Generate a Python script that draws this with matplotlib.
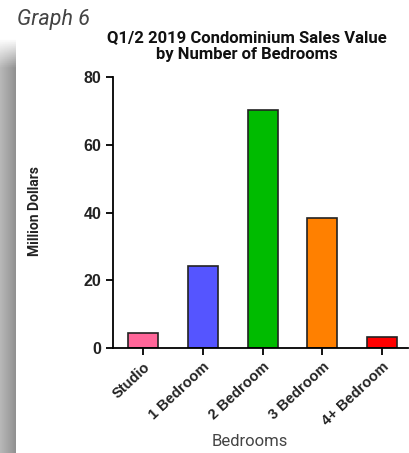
import numpy as np
import matplotlib
matplotlib.use("Agg")
import matplotlib.pyplot as plt

categories = ["Studio", "1 Bedroom", "2 Bedroom", "3 Bedroom", "4+ Bedroom"]
values = [4.3, 24.2, 70.3, 38.3, 3.2]
colors = ["#ff6699", "#5555ff", "#00bb00", "#ff8000", "#ff0000"]
yticks = [0, 20, 40, 60, 80]

W, H = 409, 453
fig = plt.figure(figsize=(W / 100, H / 100), dpi=100)

# grey strip on the left edge, fading in at the top
strip = fig.add_axes([0, 0, 15 / W, (H - 38) / H])
grad_x = np.linspace(0.72, 0.57, 20)
grad_y = np.clip(np.linspace(0, 1, 200) / 0.07, 0, 1)
img = 1 - (1 - grad_x[None, :]) * grad_y[:, None]
strip.imshow(img, cmap="gray", vmin=0, vmax=1, aspect="auto")
strip.axis("off")

ax = fig.add_axes([113 / W, 1 - 348 / H, (408 - 113) / W, (348 - 77) / H])
x = np.arange(len(categories))
ax.bar(x, values, width=0.5, color=colors, edgecolor="#222222", linewidth=1.2)

ax.set_xlim(-0.5, 4.43)
ax.set_ylim(0, 80)
ax.set_yticks(yticks)
ax.set_xticks(x)
ax.set_xticklabels(categories, rotation=43, ha="right", rotation_mode="anchor",
                   fontweight="bold", fontsize=10.5, family="Liberation Sans",
                   color="#222222")
for lab in ax.get_yticklabels():
    lab.set_fontweight("bold")
    lab.set_fontsize(11.5)
    lab.set_family("Liberation Sans")
    lab.set_color("#222222")
for s in ["top", "right"]:
    ax.spines[s].set_visible(False)
for s in ["left", "bottom"]:
    ax.spines[s].set_linewidth(1.3)
ax.tick_params(length=5, width=1.3)

fig.text(35 / W, 1 - 211 / H, "Million Dollars", fontsize=10, fontweight="bold",
         family="Roboto", rotation=90, ha="center", va="center", color="#222222")
fig.text(250 / W, 1 - 442 / H, "Bedrooms", fontsize=12,
         family="Roboto", ha="center", va="center", color="#444444")

fig.text(17 / W, 1 - 20 / H, "Graph 6", fontsize=15.5, style="italic",
         family="Roboto", color="#444444", va="center")
fig.text(247 / W, 1 - 46 / H, "Q1/2 2019 Condominium Sales Value\nby Number of Bedrooms",
         fontsize=12, fontweight="bold", family="Roboto",
         ha="center", va="center", linespacing=1.1, color="#111111")

fig.savefig("out.png", dpi=100)
